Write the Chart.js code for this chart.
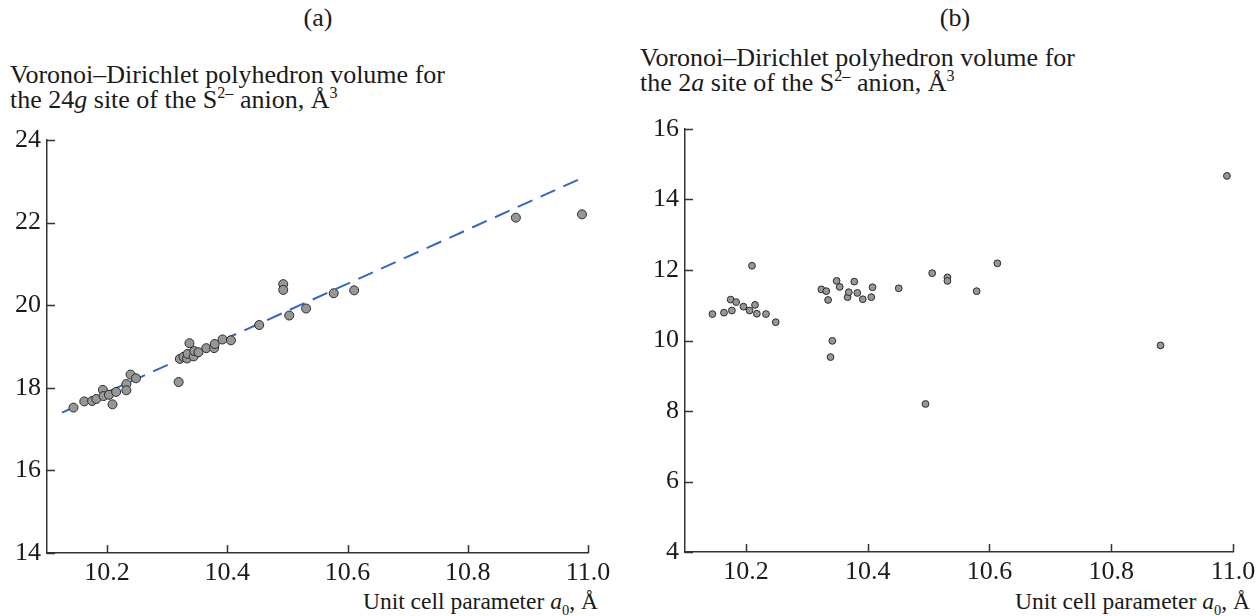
<!DOCTYPE html>
<html>
<head>
<meta charset="utf-8">
<script src="https://cdn.jsdelivr.net/npm/chart.js@4.4.1/dist/chart.umd.min.js"></script>
<style>
  html, body { margin: 0; padding: 0; background: #fff; }
  body { width: 1256px; height: 616px; position: relative; overflow: hidden;
         font-family: 'Liberation Serif', 'DejaVu Serif', serif; color: #1a1a1a; }
  .txt { position: absolute; font-size: 26px; line-height: 25px; white-space: nowrap; }
  .txt sup, .txt sub { font-size: 0.62em; line-height: 0; }
  .ax { font-size: 23.5px; }
  canvas { position: absolute; }
</style>
</head>
<body>
<div class="txt" style="left:318px;top:5px;transform:translateX(-50%)">(a)</div>
<div class="txt" style="left:955px;top:5px;transform:translateX(-50%)">(b)</div>
<div class="txt" style="left:10px;top:62px">Voronoi–Dirichlet polyhedron volume for<br>the 24<i>g</i> site of the S<sup>2–</sup> anion, Å<sup>3</sup></div>
<div class="txt" style="left:640px;top:45px">Voronoi–Dirichlet polyhedron volume for<br>the 2<i>a</i> site of the S<sup>2–</sup> anion, Å<sup>3</sup></div>
<div class="txt ax" style="right:658px;top:589px">Unit cell parameter <i>a</i><sub>0</sub>, Å</div>
<div class="txt ax" style="right:6px;top:589px">Unit cell parameter <i>a</i><sub>0</sub>, Å</div>

<canvas id="chartA" width="620" height="470" style="left:0;top:120px"></canvas>
<canvas id="chartB" width="626" height="480" style="left:630px;top:110px"></canvas>

<script>
// x tick values and labels (both panels)
const xTicks = [10.2, 10.4, 10.6, 10.8, 11.0];
const xTickLabels = ['10.2', '10.4', '10.6', '10.8', '11.0'];
const yTicksA = [14, 16, 18, 20, 22, 24];
const yTicksB = [4, 6, 8, 10, 12, 14, 16];

// (a) 24g site volumes
const a0A = [10.144, 10.162, 10.175, 10.182, 10.193, 10.194, 10.203, 10.209, 10.215, 10.232,
  10.232, 10.239, 10.248, 10.319, 10.321, 10.327, 10.333, 10.334, 10.337, 10.344,
  10.345, 10.352, 10.365, 10.378, 10.379, 10.392, 10.406, 10.453, 10.493, 10.493,
  10.503, 10.531, 10.577, 10.611, 10.880, 10.990];
const volA = [17.52, 17.67, 17.68, 17.73, 17.95, 17.80, 17.83, 17.60, 17.90, 18.09,
  17.94, 18.32, 18.23, 18.14, 18.70, 18.75, 18.71, 18.82, 19.08, 18.76,
  18.89, 18.86, 18.96, 18.96, 19.06, 19.17, 19.15, 19.52, 20.51, 20.37,
  19.75, 19.92, 20.29, 20.36, 22.12, 22.20];
// fitted line (ends)
const fitX = [10.125, 10.99];
const fitY = [17.40, 23.08];

// (b) 2a site volumes
const a0B = [10.145, 10.164, 10.175, 10.177, 10.184, 10.196, 10.206, 10.210, 10.215, 10.218,
  10.233, 10.249, 10.324, 10.332, 10.335, 10.342, 10.339, 10.349, 10.354, 10.367,
  10.369, 10.378, 10.383, 10.392, 10.406, 10.408, 10.451, 10.495, 10.506, 10.531,
  10.531, 10.579, 10.613, 10.881, 10.990];
const volB = [10.75, 10.79, 11.16, 10.85, 11.09, 10.96, 10.85, 12.12, 11.01, 10.76,
  10.75, 10.52, 11.45, 11.40, 11.15, 9.99, 9.53, 11.69, 11.52, 11.23,
  11.37, 11.67, 11.35, 11.17, 11.23, 11.51, 11.48, 8.20, 11.91, 11.79,
  11.69, 11.40, 12.19, 9.86, 14.67];

const axisColor = '#333';
const font = { family: "'Liberation Serif', serif", size: 26 };

// ticks pointing into the plot
const innerTicks = {
  id: 'innerTicks',
  afterDraw(chart) {
    const { ctx, scales: { x, y } } = chart;
    ctx.save();
    ctx.strokeStyle = axisColor;
    ctx.lineWidth = 1.5;
    ctx.beginPath();
    x.ticks.forEach(t => {
      const px = Math.round(x.getPixelForValue(t.value)) + 0.5;
      ctx.moveTo(px, y.bottom); ctx.lineTo(px, y.bottom - 8);
    });
    y.ticks.forEach(t => {
      const py = Math.round(y.getPixelForValue(t.value)) + 0.5;
      ctx.moveTo(x.left, py); ctx.lineTo(x.left + 8, py);
    });
    ctx.stroke();
    ctx.restore();
  }
};

function makeChart(id, opts) {
  const datasets = [{
    data: opts.xs.map((v, i) => ({ x: v, y: opts.ys[i] })),
    backgroundColor: '#979797',
    borderColor: '#2b2b2b',
    borderWidth: 1,
    pointRadius: opts.radius,
    order: 0
  }];
  if (opts.fit) {
    datasets.push({
      type: 'line',
      data: opts.fit[0].map((v, i) => ({ x: v, y: opts.fit[1][i] })),
      borderColor: '#3566c4',
      borderWidth: 2,
      borderDash: [16, 9],
      pointRadius: 0,
      fill: false,
      order: 1
    });
  }
  return new Chart(document.getElementById(id), {
    type: 'scatter',
    data: { datasets },
    options: {
      responsive: false,
      animation: false,
      events: [],
      layout: { padding: opts.padding },
      plugins: { legend: { display: false }, tooltip: { enabled: false } },
      scales: {
        x: {
          type: 'linear', min: 10.1, max: 11.0,
          grid: { display: false, drawTicks: false },
          border: { display: true, color: axisColor, width: 1.5 },
          afterBuildTicks: s => { s.ticks = xTicks.map(v => ({ value: v })); },
          afterFit: s => { s.height = opts.xh; s.paddingLeft = 0; s.paddingRight = 0; },
          ticks: { color: '#1a1a1a', font, padding: 5, maxRotation: 0,
                   callback: (v, i) => xTickLabels[i] }
        },
        y: {
          min: opts.ymin, max: opts.ymax,
          grid: { display: false, drawTicks: false },
          border: { display: true, color: axisColor, width: 1.5 },
          afterBuildTicks: s => { s.ticks = opts.yt.map(v => ({ value: v })); },
          afterFit: s => { s.width = opts.yw; s.paddingTop = 0; s.paddingBottom = 0; },
          ticks: { color: '#1a1a1a', font, padding: 6, callback: v => String(v) }
        }
      }
    },
    plugins: [innerTicks]
  });
}

makeChart('chartA', {
  xs: a0A, ys: volA, fit: [fitX, fitY], radius: 4.5,
  ymin: 14, ymax: 24, yt: yTicksA,
  padding: { top: 20, right: 32, left: 0, bottom: 0 }, xh: 37, yw: 47
});
makeChart('chartB', {
  xs: a0B, ys: volB, radius: 3.4,
  ymin: 4, ymax: 16, yt: yTicksB,
  padding: { top: 19, right: 23, left: 0, bottom: 0 }, xh: 38, yw: 55
});
</script>
</body>
</html>
